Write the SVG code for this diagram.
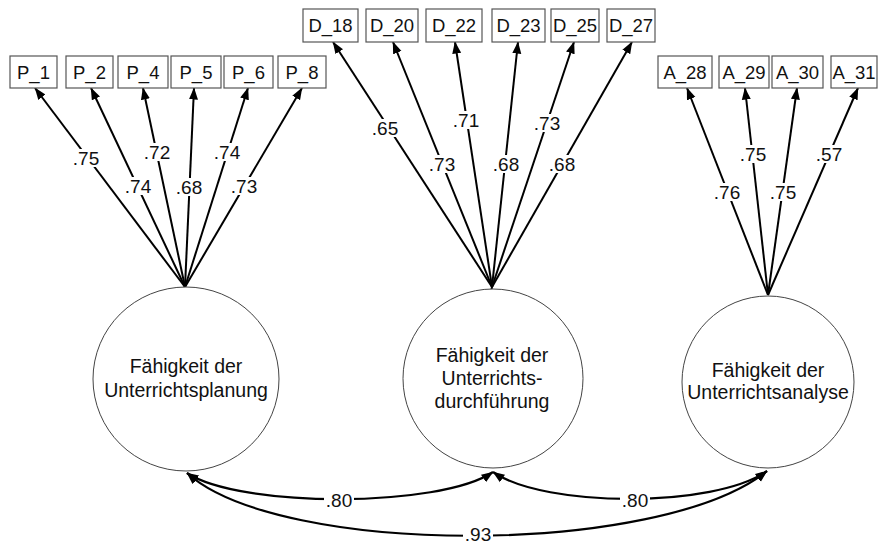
<svg xmlns="http://www.w3.org/2000/svg" width="880" height="546" viewBox="0 0 880 546">
<style>
.box{fill:#fff;stroke:#555;stroke-width:1.2}
.bt{font-family:"Liberation Sans",Arial,sans-serif;font-size:18.5px;fill:#111;text-anchor:middle}
.lv{fill:#fff;stroke:#444;stroke-width:1}
.lt{font-family:"Liberation Sans",Arial,sans-serif;font-size:19.5px;fill:#111;text-anchor:middle}
.ar{fill:none;stroke:#000;stroke-width:2;marker-end:url(#ah)}
.cv{fill:none;stroke:#000;stroke-width:2.2;marker-start:url(#ah2);marker-end:url(#ah2)}
.bg{fill:#fff}
.nt{font-family:"Liberation Sans",Arial,sans-serif;font-size:19px;fill:#111;text-anchor:middle}
</style>
<defs>
<marker id="ah" markerUnits="userSpaceOnUse" markerWidth="12" markerHeight="10" viewBox="0 0 12 10" refX="11.5" refY="5" orient="auto"><path d="M0,0.5 L12,5 L0,9.5 z" fill="#000"/></marker>
<marker id="ah2" markerUnits="userSpaceOnUse" markerWidth="12" markerHeight="10" viewBox="0 0 12 10" refX="11.5" refY="5" orient="auto-start-reverse"><path d="M0,0.5 L12,5 L0,9.5 z" fill="#000"/></marker>
</defs>
<rect width="880" height="546" fill="#fff"/>

<g id="connectors">
<!-- Planung loadings -->
<line class="ar" x1="185" y1="287" x2="35" y2="88"/>
<line class="ar" x1="185" y1="287" x2="91" y2="88"/>
<line class="ar" x1="185" y1="287" x2="143" y2="88"/>
<line class="ar" x1="185" y1="287" x2="194" y2="88"/>
<line class="ar" x1="185" y1="287" x2="248" y2="88"/>
<line class="ar" x1="185" y1="287" x2="302" y2="88"/>
<!-- Durchfuehrung loadings -->
<line class="ar" x1="492" y1="287" x2="333" y2="42"/>
<line class="ar" x1="492" y1="287" x2="393" y2="42"/>
<line class="ar" x1="492" y1="287" x2="455" y2="42"/>
<line class="ar" x1="492" y1="287" x2="518" y2="42"/>
<line class="ar" x1="492" y1="287" x2="574" y2="42"/>
<line class="ar" x1="492" y1="287" x2="632" y2="42"/>
<line x1="492.5" y1="284" x2="489" y2="303" stroke="#000" stroke-width="2"/>
<!-- Analyse loadings -->
<line class="ar" x1="768" y1="295" x2="687" y2="88"/>
<line class="ar" x1="768" y1="295" x2="745" y2="88"/>
<line class="ar" x1="768" y1="295" x2="797" y2="88"/>
<line class="ar" x1="768" y1="295" x2="858" y2="88"/>
<!-- correlations -->
<path class="cv" d="M187,473 C240,508 440,508 493,472"/>
<path class="cv" d="M493,472 C545,508 715,508 767,471"/>
<path class="cv" d="M187,473 C280,557 660,557 767,471"/>

<!-- loading labels -->
<g>
<rect class="bg" x="71" y="149" width="30" height="18"/><text class="nt" x="86" y="165">.75</text>
<rect class="bg" x="123" y="177" width="30" height="18"/><text class="nt" x="138" y="193">.74</text>
<rect class="bg" x="142" y="143" width="30" height="18"/><text class="nt" x="157" y="159">.72</text>
<rect class="bg" x="174" y="178" width="30" height="18"/><text class="nt" x="189" y="194">.68</text>
<rect class="bg" x="212" y="143" width="30" height="18"/><text class="nt" x="227" y="159">.74</text>
<rect class="bg" x="229" y="177" width="30" height="18"/><text class="nt" x="244" y="193">.73</text>

<rect class="bg" x="370" y="119" width="30" height="18"/><text class="nt" x="385" y="135">.65</text>
<rect class="bg" x="427" y="155" width="30" height="18"/><text class="nt" x="442" y="171">.73</text>
<rect class="bg" x="451" y="111" width="30" height="18"/><text class="nt" x="466" y="127">.71</text>
<rect class="bg" x="491" y="155" width="30" height="18"/><text class="nt" x="506" y="171">.68</text>
<rect class="bg" x="532" y="114" width="30" height="18"/><text class="nt" x="547" y="130">.73</text>
<rect class="bg" x="547" y="155" width="30" height="18"/><text class="nt" x="562" y="171">.68</text>

<rect class="bg" x="712" y="183" width="30" height="18"/><text class="nt" x="727" y="199">.76</text>
<rect class="bg" x="738" y="145" width="30" height="18"/><text class="nt" x="753" y="161">.75</text>
<rect class="bg" x="768" y="183" width="30" height="18"/><text class="nt" x="783" y="199">.75</text>
<rect class="bg" x="814" y="145" width="30" height="18"/><text class="nt" x="829" y="161">.57</text>

<rect class="bg" x="324" y="491" width="30" height="18"/><text class="nt" x="339" y="507">.80</text>
<rect class="bg" x="620" y="491" width="30" height="18"/><text class="nt" x="635" y="507">.80</text>
<rect class="bg" x="463" y="526" width="30" height="18"/><text class="nt" x="478" y="541">.93</text>
</g>
</g>

<g id="P_1"><rect class="box" x="10" y="56" width="47" height="32"/><text class="bt" x="33.5" y="79">P_1</text></g>
<g id="P_2"><rect class="box" x="66" y="56" width="47" height="32"/><text class="bt" x="89.5" y="79">P_2</text></g>
<g id="P_4"><rect class="box" x="118" y="56" width="50" height="32"/><text class="bt" x="143" y="79">P_4</text></g>
<g id="P_5"><rect class="box" x="171" y="56" width="50" height="32"/><text class="bt" x="196" y="79">P_5</text></g>
<g id="P_6"><rect class="box" x="224" y="56" width="49" height="32"/><text class="bt" x="248.5" y="79">P_6</text></g>
<g id="P_8"><rect class="box" x="278" y="56" width="48" height="32"/><text class="bt" x="302" y="79">P_8</text></g>

<g id="D_18"><rect class="box" x="303" y="9" width="55" height="33"/><text class="bt" x="330.5" y="32">D_18</text></g>
<g id="D_20"><rect class="box" x="366" y="9" width="52" height="33"/><text class="bt" x="392" y="32">D_20</text></g>
<g id="D_22"><rect class="box" x="426" y="9" width="56" height="33"/><text class="bt" x="454" y="32">D_22</text></g>
<g id="D_23"><rect class="box" x="492" y="9" width="53" height="33"/><text class="bt" x="518.5" y="32">D_23</text></g>
<g id="D_25"><rect class="box" x="551" y="9" width="48" height="33"/><text class="bt" x="575" y="32">D_25</text></g>
<g id="D_27"><rect class="box" x="607" y="9" width="48" height="33"/><text class="bt" x="631" y="32">D_27</text></g>

<g id="A_28"><rect class="box" x="658" y="56" width="54" height="32"/><text class="bt" x="685" y="79">A_28</text></g>
<g id="A_29"><rect class="box" x="719" y="56" width="50" height="32"/><text class="bt" x="744" y="79">A_29</text></g>
<g id="A_30"><rect class="box" x="772" y="56" width="51" height="32"/><text class="bt" x="797.5" y="79">A_30</text></g>
<g id="A_31"><rect class="box" x="831" y="56" width="46" height="32"/><text class="bt" x="854" y="79">A_31</text></g>

<g id="Planung"><ellipse class="lv" cx="186" cy="379" rx="93" ry="92"/>
<text class="lt" x="186" y="373">Fähigkeit der</text><text class="lt" x="186" y="397">Unterrichtsplanung</text></g>
<g id="Durchfuehrung"><ellipse class="lv" cx="493" cy="378.5" rx="90" ry="89.5" fill="none"/>
<text class="lt" x="492" y="362">Fähigkeit der</text><text class="lt" x="492" y="385">Unterrichts-</text><text class="lt" x="492" y="408">durchführung</text></g>
<g id="Analyse"><ellipse class="lv" cx="768" cy="382" rx="86" ry="86"/>
<text class="lt" x="768" y="377">Fähigkeit der</text><text class="lt" x="768" y="399">Unterrichtsanalyse</text></g>
</svg>
